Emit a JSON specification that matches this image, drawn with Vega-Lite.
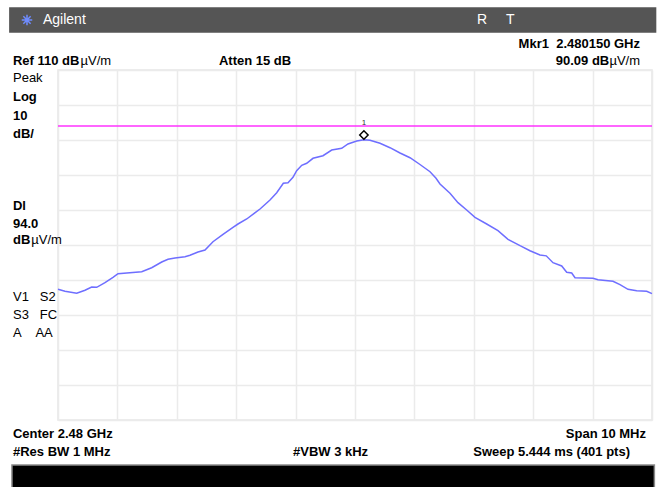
{
  "$schema": "https://vega.github.io/schema/vega-lite/v6.json",
  "width": 594,
  "height": 350,
  "autosize": {"type": "none"},
  "padding": {"left": 58, "top": 70, "right": 9, "bottom": 67},
  "background": "white",
  "config": {
    "view": {"stroke": "#e6e6e6", "strokeWidth": 1.5},
    "text": {"font": "Liberation Sans", "fontSize": 13}
  },
  "datasets": {
    "trace": [
      {"f": 2475.000, "db": 47.34}, {"f": 2475.118, "db": 46.77}, {"f": 2475.315, "db": 46.2},
      {"f": 2475.455, "db": 47.06}, {"f": 2475.567, "db": 48.0}, {"f": 2475.652, "db": 47.91},
      {"f": 2475.791, "db": 49.23}, {"f": 2475.926, "db": 50.77}, {"f": 2476.010, "db": 51.8},
      {"f": 2476.409, "db": 52.37}, {"f": 2476.577, "db": 53.51}, {"f": 2476.746, "db": 55.14},
      {"f": 2476.852, "db": 55.91}, {"f": 2476.970, "db": 56.29}, {"f": 2477.138, "db": 56.66},
      {"f": 2477.222, "db": 57.06}, {"f": 2477.357, "db": 58.0}, {"f": 2477.475, "db": 58.57},
      {"f": 2477.609, "db": 60.94}, {"f": 2477.778, "db": 63.06}, {"f": 2477.946, "db": 65.06},
      {"f": 2478.030, "db": 66.0}, {"f": 2478.177, "db": 67.43}, {"f": 2478.401, "db": 70.29},
      {"f": 2478.569, "db": 72.86}, {"f": 2478.682, "db": 74.94}, {"f": 2478.793, "db": 77.63},
      {"f": 2478.872, "db": 77.8}, {"f": 2478.956, "db": 79.34}, {"f": 2479.018, "db": 81.23},
      {"f": 2479.103, "db": 82.77}, {"f": 2479.187, "db": 83.34}, {"f": 2479.293, "db": 84.77},
      {"f": 2479.461, "db": 85.51}, {"f": 2479.608, "db": 87.14}, {"f": 2479.776, "db": 87.63},
      {"f": 2479.882, "db": 88.86}, {"f": 2480.029, "db": 89.71}, {"f": 2480.150, "db": 90.09},
      {"f": 2480.253, "db": 89.91}, {"f": 2480.421, "db": 89.06}, {"f": 2480.589, "db": 87.8},
      {"f": 2480.758, "db": 86.29}, {"f": 2480.926, "db": 84.94}, {"f": 2481.094, "db": 83.0},
      {"f": 2481.263, "db": 80.94}, {"f": 2481.364, "db": 79.06}, {"f": 2481.431, "db": 77.43},
      {"f": 2481.599, "db": 74.77}, {"f": 2481.734, "db": 72.09}, {"f": 2481.880, "db": 70.0},
      {"f": 2482.020, "db": 67.91}, {"f": 2482.217, "db": 66.0}, {"f": 2482.407, "db": 64.09},
      {"f": 2482.576, "db": 61.63}, {"f": 2482.778, "db": 59.8}, {"f": 2482.946, "db": 58.37},
      {"f": 2483.114, "db": 57.14}, {"f": 2483.220, "db": 56.9}, {"f": 2483.333, "db": 54.94},
      {"f": 2483.480, "db": 54.0}, {"f": 2483.564, "db": 52.2}, {"f": 2483.648, "db": 52.0},
      {"f": 2483.704, "db": 50.66}, {"f": 2484.007, "db": 50.49}, {"f": 2484.091, "db": 50.09},
      {"f": 2484.343, "db": 49.63}, {"f": 2484.461, "db": 48.66}, {"f": 2484.596, "db": 47.34},
      {"f": 2484.742, "db": 46.94}, {"f": 2484.911, "db": 46.77}, {"f": 2485.000, "db": 46.09}
    ],
    "boldLeft": [
      {"f": 2474.242, "db": 112.57, "t": "Ref 110 dB"},
      {"f": 2477.710, "db": 112.57, "t": "Atten 15 dB"},
      {"f": 2474.242, "db": 102.29, "t": "Log"},
      {"f": 2474.242, "db": 96.86, "t": "10"},
      {"f": 2474.242, "db": 91.71, "t": "dB/"},
      {"f": 2474.242, "db": 71.14, "t": "Dl"},
      {"f": 2474.242, "db": 66.0, "t": "94.0"},
      {"f": 2474.242, "db": 61.43, "t": "dB"},
      {"f": 2474.242, "db": 6.0, "t": "Center 2.48 GHz"},
      {"f": 2474.242, "db": 0.857, "t": "#Res BW 1 MHz"},
      {"f": 2478.956, "db": 0.857, "t": "#VBW 3 kHz"}
    ],
    "normalLeft": [
      {"f": 2474.242, "db": 107.71, "t": "Peak"},
      {"f": 2474.242, "db": 45.14, "t": "V1\u00a0\u00a0 S2"},
      {"f": 2474.242, "db": 40.0, "t": "S3\u00a0\u00a0 FC"},
      {"f": 2474.242, "db": 34.86, "t": "A\u00a0\u00a0\u00a0 AA"},
      {"f": 2475.380, "db": 112.57, "t": "µV/m"},
      {"f": 2474.550, "db": 61.43, "t": "µV/m"}
    ],
    "boldRight": [
      {"f": 2484.798, "db": 117.43, "t": "Mkr1\u00a0 2.480150 GHz"},
      {"f": 2484.280, "db": 112.57, "t": "90.09 dB"},
      {"f": 2484.899, "db": 6.0, "t": "Span 10 MHz"},
      {"f": 2484.630, "db": 0.857, "t": "Sweep 5.444 ms (401 pts)"}
    ],
    "normalRight": [
      {"f": 2484.798, "db": 112.57, "t": "µV/m"}
    ],
    "barText": [
      {"f": 2474.747, "db": 124.29, "t": "Agilent"},
      {"f": 2482.054, "db": 124.29, "t": "R"},
      {"f": 2482.542, "db": 124.29, "t": "T"}
    ],
    "logo": [
      {"f": 2474.478, "db": 124.29}
    ],
    "bars": [
      {"f1": 2474.190, "f2": 2485.060, "d1": 127.7, "d2": 120.86, "c": "#555555", "s": "#555555"},
      {"f1": 2474.225, "f2": 2485.040, "d1": -2.86, "d2": -10.3, "c": "#000000", "s": "#8a8a8a"}
    ]
  },
  "encoding": {
    "x": {"field": "f", "type": "quantitative", "scale": {"domain": [2475, 2485], "nice": false, "zero": false},
      "axis": {"values": [2475, 2476, 2477, 2478, 2479, 2480, 2481, 2482, 2483, 2484, 2485], "labels": false, "ticks": false, "domain": false, "title": null, "grid": true, "gridColor": "#ebebeb", "gridWidth": 1.5}},
    "y": {"field": "db", "type": "quantitative", "scale": {"domain": [10, 110], "nice": false, "zero": false},
      "axis": {"values": [10, 20, 30, 40, 50, 60, 70, 80, 90, 100, 110], "labels": false, "ticks": false, "domain": false, "title": null, "grid": true, "gridColor": "#ebebeb", "gridWidth": 1.5}}
  },
  "layer": [
    {
      "data": {"name": "bars"},
      "mark": {"type": "rect", "strokeWidth": 1.5},
      "encoding": {
        "x": {"field": "f1", "type": "quantitative"},
        "x2": {"field": "f2"},
        "y": {"field": "d1", "type": "quantitative"},
        "y2": {"field": "d2"},
        "fill": {"field": "c", "type": "nominal", "scale": null},
        "stroke": {"field": "s", "type": "nominal", "scale": null}
      }
    },
    {
      "data": {"name": "logo"},
      "mark": {"type": "point", "shape": "M-1,0L1,0M0,-1L0,1M-0.7,-0.7L0.7,0.7M-0.7,0.7L0.7,-0.7", "size": 110, "filled": false, "stroke": "#6f8cff", "strokeWidth": 1.5, "opacity": 1},
      "encoding": {}
    },
    {
      "data": {"values": [{"f1": 2475, "f2": 2485, "db": 94.0}]},
      "mark": {"type": "rule", "color": "#ff33ff", "strokeWidth": 1.5},
      "encoding": {
        "x": {"field": "f1", "type": "quantitative"},
        "x2": {"field": "f2"},
        "y": {"field": "db", "type": "quantitative"}
      }
    },
    {
      "data": {"name": "trace"},
      "mark": {"type": "line", "color": "#6e6eff", "strokeWidth": 1.5},
      "encoding": {}
    },
    {
      "data": {"values": [{"f": 2480.150, "db": 91.43}]},
      "mark": {"type": "point", "shape": "diamond", "size": 70, "filled": false, "fill": "white", "stroke": "black", "strokeWidth": 1.5, "opacity": 1},
      "encoding": {}
    },
    {
      "data": {"values": [{"f": 2480.150, "db": 94.86, "t": "1"}]},
      "mark": {"type": "text", "fontSize": 8, "color": "#333333", "baseline": "middle", "align": "center"},
      "encoding": {"text": {"field": "t"}}
    },
    {
      "data": {"name": "boldLeft"},
      "mark": {"type": "text", "fontWeight": "bold", "align": "left", "baseline": "middle", "color": "black"},
      "encoding": {"text": {"field": "t"}}
    },
    {
      "data": {"name": "normalLeft"},
      "mark": {"type": "text", "align": "left", "baseline": "middle", "color": "black"},
      "encoding": {"text": {"field": "t"}}
    },
    {
      "data": {"name": "boldRight"},
      "mark": {"type": "text", "fontWeight": "bold", "align": "right", "baseline": "middle", "color": "black"},
      "encoding": {"text": {"field": "t"}}
    },
    {
      "data": {"name": "normalRight"},
      "mark": {"type": "text", "align": "right", "baseline": "middle", "color": "black"},
      "encoding": {"text": {"field": "t"}}
    },
    {
      "data": {"name": "barText"},
      "mark": {"type": "text", "align": "left", "baseline": "middle", "color": "white", "fontSize": 14},
      "encoding": {"text": {"field": "t"}}
    }
  ]
}
